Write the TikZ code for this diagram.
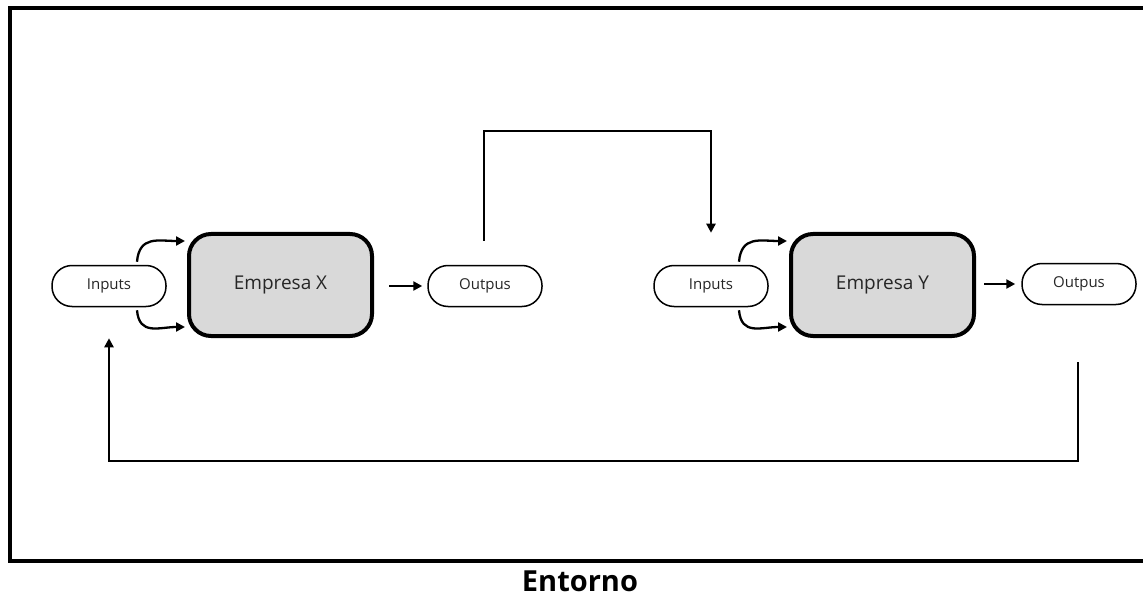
\documentclass[tikz,border=0pt]{standalone}
\usepackage{fontspec}
\setmainfont{Open Sans}
\usetikzlibrary{arrows.meta,calc}
\definecolor{boxfill}{HTML}{D9D9D9}
\definecolor{txt}{HTML}{262626}
\begin{document}
\begin{tikzpicture}[x=1pt,y=-1pt,
  pill/.style={draw,line width=1.5pt,rounded corners=20pt,minimum width=114pt,minimum height=41pt,inner sep=0pt,font=\fontsize{15}{17}\selectfont,text=txt},
  firm/.style={draw,line width=4pt,fill=boxfill,rounded corners=22pt,minimum width=183pt,minimum height=102pt,inner sep=0pt,font=\fontsize{19}{22}\selectfont,text=txt},
  conn/.style={line width=2.3pt},
  arr/.style={conn,-{Triangle[length=9pt,width=9pt]}}]
\useasboundingbox (0,0) rectangle (1143,596);
\draw[line width=3.2pt] (10,8) rectangle (1160,561);
\node[pill] (inX) at (109,286) {Inputs};
\node[firm] (eX) at (280.5,285) {Empresa X};
\node[pill] (outX) at (485,286) {Outpus};
\node[pill] (inY) at (711,286) {Inputs};
\node[firm] (eY) at (882.5,285) {Empresa Y};
\node[pill] (outY) at (1079,284) {Outpus};
\node[font=\bfseries\fontsize{29}{33}\selectfont,inner sep=0pt] (ent) at (580,581) {Entorno};
% curved inputs
\draw[arr] ($(inX.north)+(28,-3)$) to[out=85,in=180,looseness=1.3] ($(eX.west)+(-2,-44)$);
\draw[arr] ($(inX.south)+(28,3)$) to[out=-85,in=180,looseness=1.3] ($(eX.west)+(-2,42)$);
\draw[arr] ($(inY.north)+(28,-3)$) to[out=85,in=180,looseness=1.3] ($(eY.west)+(-2,-44)$);
\draw[arr] ($(inY.south)+(28,3)$) to[out=-85,in=180,looseness=1.3] ($(eY.west)+(-2,42)$);
% straight arrows
\draw[arr] ($(eX.east)+(15,1)$) -- ($(outX.west)+(-5,0)$);
\draw[arr] ($(eY.east)+(8,-1)$) -- ($(outY.west)+(-6,0)$);
% feedback lines
\coordinate (a1) at ($(outX.north)+(-1,-24)$);
\coordinate (a2) at ($(inY.north)+(0,-32)$);
\draw[arr] (a1) -- (a1 |- 0,131) -- (a2 |- 0,131) -- (a2);
\coordinate (b1) at ($(outY.south)+(-1,57)$);
\coordinate (b2) at ($(inX.south)+(0,31)$);
\draw[arr] (b1) -- (b1 |- 0,461) -- (b2 |- 0,461) -- (b2);
\end{tikzpicture}
\end{document}
